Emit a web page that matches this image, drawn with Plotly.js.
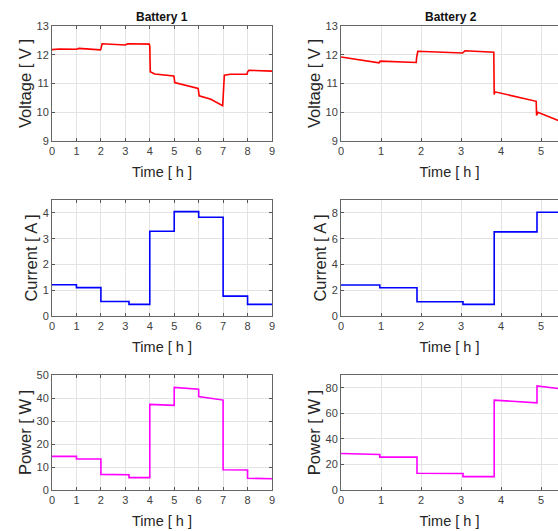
<!DOCTYPE html>
<html>
<head>
<meta charset="utf-8">
<script src="https://cdn.plot.ly/plotly-3.0.1.min.js"></script>
<style>html,body{margin:0;padding:0;background:#fff;}#chart{width:558px;height:531px;}</style>
</head>
<body>
<div id="chart"></div>
<script>
// Battery 1 voltage
const tV1 = [0, 0.3, 1.0, 1.1, 1.98, 2.0, 2.05, 3.0, 3.1, 3.98, 4.0, 4.02, 4.2, 4.98, 5.0, 5.02, 5.98, 6.0, 6.02, 6.5, 6.98, 7.0, 7.05, 7.3, 7.98, 8.0, 8.05, 9.0];
const V1  = [12.18, 12.2, 12.19, 12.22, 12.17, 12.2, 12.38, 12.34, 12.38, 12.37, 12.3, 11.41, 11.33, 11.26, 11.2, 11.03, 10.83, 10.75, 10.57, 10.45, 10.23, 10.5, 11.29, 11.32, 11.32, 11.4, 11.46, 11.43];
// Battery 1 current
const tI1 = [0, 1, 1, 2, 2, 3.15, 3.15, 4, 4, 5, 5, 6, 6, 7, 7, 8, 8, 9];
const I1  = [1.21, 1.21, 1.1, 1.1, 0.56, 0.56, 0.45, 0.45, 3.29, 3.29, 4.05, 4.05, 3.83, 3.83, 0.77, 0.77, 0.45, 0.45];
// Battery 1 power
const tP1 = [0, 1, 1, 2, 2, 3.15, 3.15, 4, 4, 5, 5, 6, 6, 7, 7, 8, 8, 9];
const P1  = [14.6, 14.6, 13.5, 13.5, 6.8, 6.6, 5.4, 5.4, 37.2, 36.8, 44.6, 43.8, 40.6, 39.1, 8.8, 8.7, 5.1, 4.9];

// Battery 2 voltage
const tV2 = [0, 0.5, 0.95, 0.98, 1.88, 1.89, 1.92, 3.04, 3.06, 3.1, 3.82, 3.83, 3.85, 4.88, 4.89, 4.92, 5.45];
const V2  = [11.92, 11.82, 11.72, 11.78, 11.73, 11.9, 12.12, 12.06, 12.1, 12.14, 12.09, 10.62, 10.71, 10.38, 9.89, 10.0, 9.7];
// Battery 2 current
const tI2 = [0, 0.97, 0.97, 1.9, 1.9, 3.05, 3.05, 3.83, 3.83, 4.9, 4.9, 5.45];
const I2  = [2.4, 2.4, 2.19, 2.19, 1.11, 1.11, 0.9, 0.9, 6.53, 6.53, 8.05, 8.05];
// Battery 2 power
const tP2 = [0, 0.97, 0.97, 1.9, 1.9, 3.05, 3.05, 3.83, 3.83, 4.9, 4.9, 5.45];
const P2  = [28.6, 27.8, 25.7, 25.7, 13.1, 12.9, 10.5, 10.5, 70.3, 68.2, 81.4, 79.3];

const xTicks1 = [0,1,2,3,4,5,6,7,8,9];
const xTicks2 = [0,1,2,3,4,5];
const titles = ['Battery 1', 'Battery 2'];
const xLabel = 'Time [ h ]';
const yLabels = ['Voltage [ V ]', 'Current [ A ]', 'Power [ W ]'];

const RED = '#ff0000', BLUE = '#0000ff', MAG = '#ff00ff';
const W = 558, H = 531;
const FONT = 'Liberation Sans, Arial, Helvetica, sans-serif';

function tr(x, y, xa, ya, color) {
  return {x: x, y: y, xaxis: xa, yaxis: ya, type: 'scatter', mode: 'lines',
          line: {color: color, width: 1.6}, hoverinfo: 'skip', showlegend: false};
}
const data = [
  tr(tV1, V1, 'x', 'y', RED),
  tr(tV2, V2, 'x2', 'y2', RED),
  tr(tI1, I1, 'x3', 'y3', BLUE),
  tr(tI2, I2, 'x4', 'y4', BLUE),
  tr(tP1, P1, 'x5', 'y5', MAG),
  tr(tP2, P2, 'x6', 'y6', MAG)
];

const colX = [[52/W, 272/W], [341/W, 1]];
const rowsPx = [[26, 141], [200, 316], [375, 490]];
const rowY = rowsPx.map(r => [(H - r[1]) / H, (H - r[0]) / H]);
const yRanges = [[[9,13],[9,13]], [[0,4.5],[0,9]], [[0,50],[0,90]]];
const yDticks = [[1,1],[1,2],[10,20]];

const layout = {
  width: W, height: H,
  margin: {l: 0, r: 0, t: 0, b: 0},
  paper_bgcolor: '#fff', plot_bgcolor: '#fff',
  font: {family: FONT, color: '#404040'},
  showlegend: false,
  annotations: []
};

let n = 1;
for (let r = 0; r < 3; r++) {
  for (let c = 0; c < 2; c++) {
    const xk = n === 1 ? 'xaxis' : 'xaxis' + n;
    const yk = n === 1 ? 'yaxis' : 'yaxis' + n;
    const xid = n === 1 ? 'x' : 'x' + n;
    const yid = n === 1 ? 'y' : 'y' + n;
    layout[xk] = {
      domain: colX[c], anchor: yid,
      range: c === 0 ? [0, 9] : [0, 5.425],
      tickvals: c === 0 ? xTicks1 : xTicks2,
      ticks: 'inside', ticklen: 3, tickcolor: '#555',
      showline: true, linecolor: '#666', linewidth: 1,
      mirror: c === 0 ? 'ticks' : true,
      showgrid: true, gridcolor: '#e3e3e3', gridwidth: 1,
      zeroline: false,
      tickfont: {size: 11, color: '#404040', family: FONT},
      title: {text: xLabel, font: {size: 14.5, color: '#262626', family: FONT}, standoff: 10},
      automargin: false, fixedrange: true
    };
    layout[yk] = {
      domain: rowY[r], anchor: xid,
      range: yRanges[r][c], dtick: yDticks[r][c], tick0: 0,
      ticks: 'inside', ticklen: 3, tickcolor: '#555',
      showline: true, linecolor: '#666', linewidth: 1,
      mirror: c === 0 ? 'ticks' : false,
      showgrid: true, gridcolor: '#e3e3e3', gridwidth: 1,
      zeroline: false,
      tickfont: {size: 11, color: '#404040', family: FONT},
      title: {text: yLabels[r], font: {size: 16.5, color: '#262626', family: FONT}, standoff: 0},
      automargin: false, fixedrange: true
    };
    n++;
  }
}

layout.annotations.push({text: '<b>' + titles[0] + '</b>', xref: 'paper', yref: 'paper',
  x: 162/W, y: (H - 17)/H, showarrow: false, xanchor: 'center', yanchor: 'middle',
  font: {size: 12, color: '#111', family: FONT}});
layout.annotations.push({text: '<b>' + titles[1] + '</b>', xref: 'paper', yref: 'paper',
  x: 451/W, y: (H - 17)/H, showarrow: false, xanchor: 'center', yanchor: 'middle',
  font: {size: 12, color: '#111', family: FONT}});

Plotly.newPlot('chart', data, layout, {staticPlot: true, displayModeBar: false});
</script>
</body>
</html>
